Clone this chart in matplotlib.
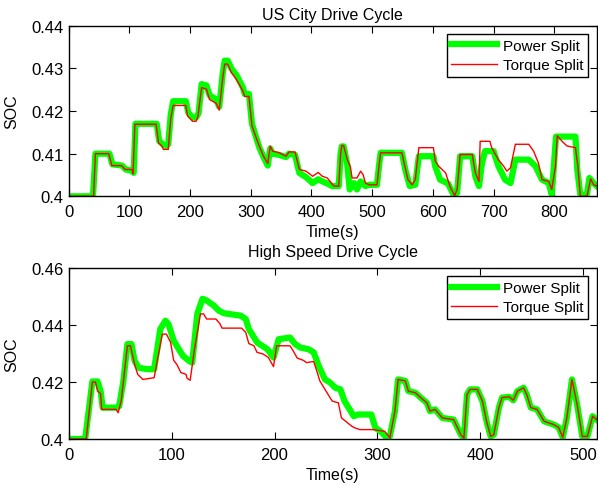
import matplotlib
matplotlib.use('Agg')
import matplotlib.pyplot as plt

plt.rcParams['font.family'] = ['Liberation Sans', 'DejaVu Sans']
plt.rcParams['font.size'] = 11.5

# US City drive cycle - SOC traces (time in s)
city_power_t = [0, 40, 44, 67, 72, 88, 94, 104, 107, 110, 145, 149, 155, 160, 164, 168, 172, 193,
                197, 204, 210, 214, 219, 227, 232, 243, 248, 254, 257, 262, 268, 276, 287, 290,
                297, 302, 309, 314, 321, 328, 332, 336, 347, 358, 363, 373, 380, 391, 402, 411,
                418, 426, 434, 445, 448, 450, 453, 459, 463, 470, 475, 481, 489, 495, 508, 512,
                514, 549, 555, 562, 571, 577, 601, 604, 612, 625, 634, 640, 645, 665, 670, 676,
                681, 686, 700, 708, 719, 728, 736, 758, 769, 780, 791, 796, 803, 835, 838, 843,
                854, 858, 865, 870]
city_power_soc = [0.4, 0.4, 0.410, 0.410, 0.4075, 0.4072, 0.4063, 0.406, 0.4055, 0.417, 0.417,
                  0.413, 0.4122, 0.4118, 0.4122, 0.419, 0.4223, 0.4223, 0.4196, 0.4185, 0.4185,
                  0.4195, 0.4263, 0.426, 0.4237, 0.4227, 0.421, 0.429, 0.4318, 0.4318, 0.430,
                  0.4285, 0.4255, 0.424, 0.424, 0.417, 0.4137, 0.4115, 0.4092, 0.4072, 0.4112,
                  0.410, 0.4097, 0.4092, 0.410, 0.4097, 0.4055, 0.4045, 0.4031, 0.404, 0.4035,
                  0.403, 0.4024, 0.4024, 0.410, 0.4117, 0.4117, 0.4075, 0.4016, 0.4031, 0.4016,
                  0.4035, 0.4024, 0.4027, 0.4027, 0.408, 0.4102, 0.4102, 0.406, 0.4024, 0.4027,
                  0.4094, 0.4094, 0.407, 0.4039, 0.403, 0.4004, 0.4008, 0.4094, 0.4094, 0.4047,
                  0.4024, 0.4078, 0.4106, 0.4106, 0.4071, 0.4039, 0.4031, 0.4086, 0.4086, 0.4071,
                  0.4039, 0.4031, 0.4004, 0.414, 0.414, 0.4063, 0.4004, 0.4004, 0.4043, 0.4031,
                  0.4024]

city_torque_t = [0, 41, 44, 66, 71, 87, 93, 104, 106, 109, 144, 148, 153, 156, 164, 168, 172, 193,
                 196, 204, 210, 213, 219, 227, 232, 243, 248, 254, 257, 262, 268, 276, 287, 290,
                 297, 302, 309, 314, 321, 328, 332, 336, 347, 358, 363, 373, 380, 391, 402, 411,
                 418, 426, 437, 445, 448, 450, 453, 459, 464, 467, 475, 481, 485, 489, 495, 508,
                 512, 514, 549, 554, 559, 566, 571, 577, 601, 604, 610, 621, 629, 636, 640, 645,
                 665, 670, 676, 678, 694, 697, 708, 717, 722, 728, 736, 758, 766, 774, 780, 791,
                 796, 802, 805, 813, 821, 835, 839, 843, 854, 860, 865, 870]
city_torque_soc = [0.4, 0.4, 0.410, 0.410, 0.4072, 0.4072, 0.4063, 0.4063, 0.4053, 0.4169, 0.4169,
                   0.4125, 0.4119, 0.411, 0.411, 0.418, 0.4213, 0.4213, 0.4188, 0.4176, 0.4176,
                   0.4188, 0.4255, 0.4251, 0.4227, 0.4218, 0.4202, 0.428, 0.431, 0.431, 0.429,
                   0.4275, 0.4247, 0.4234, 0.4234, 0.4165, 0.4137, 0.4118, 0.4094, 0.4077, 0.4118,
                   0.4106, 0.4102, 0.4094, 0.4104, 0.4104, 0.4063, 0.4059, 0.4047, 0.4056, 0.4047,
                   0.4043, 0.4024, 0.4024, 0.410, 0.4119, 0.4119, 0.4086, 0.407, 0.4043, 0.4043,
                   0.4059, 0.4051, 0.4031, 0.4027, 0.4027, 0.408, 0.4102, 0.4102, 0.407, 0.4039,
                   0.4027, 0.4039, 0.4114, 0.4114, 0.4082, 0.407, 0.4055, 0.402, 0.4002, 0.4016,
                   0.4098, 0.4098, 0.4055, 0.4035, 0.4129, 0.4129, 0.4114, 0.4086, 0.407, 0.4059,
                   0.4067, 0.4122, 0.4122, 0.4106, 0.4078, 0.4039, 0.4035, 0.4016, 0.407, 0.4142,
                   0.4129, 0.4118, 0.4114, 0.407, 0.4, 0.4, 0.4041, 0.4027, 0.4024]

# High speed drive cycle
hs_power_t = [0, 16, 23, 28, 31, 33, 46, 49, 53, 57, 61, 64, 68, 76, 83, 86, 89, 94, 97, 102, 107,
              111, 117, 120, 125, 130, 134, 141, 146, 151, 167, 172, 175, 183, 188, 193, 199, 204,
              215, 220, 225, 233, 238, 243, 249, 254, 259, 264, 268, 277, 281, 294, 298, 303, 309,
              312, 317, 320, 327, 330, 337, 342, 348, 351, 356, 363, 374, 381, 384, 387, 390, 397,
              402, 406, 410, 413, 418, 421, 428, 432, 436, 442, 445, 449, 455, 462, 471, 476, 480,
              484, 489, 494, 499, 504, 509, 513]
hs_power_soc = [0.4, 0.4, 0.4202, 0.4202, 0.4168, 0.411, 0.411, 0.4115, 0.420, 0.4333, 0.4333,
                0.4274, 0.425, 0.4245, 0.4245, 0.4315, 0.4386, 0.4415, 0.4403, 0.4345, 0.4315,
                0.4292, 0.4274, 0.4268, 0.444, 0.4492, 0.4486, 0.4468, 0.445, 0.4441, 0.4433,
                0.4421, 0.4386, 0.4339, 0.4327, 0.4315, 0.4286, 0.435, 0.4356, 0.4333, 0.4321,
                0.4315, 0.4304, 0.4256, 0.4209, 0.4198, 0.418, 0.4174, 0.4133, 0.408, 0.4086,
                0.4086, 0.4039, 0.4027, 0.4004, 0.4009, 0.4098, 0.4209, 0.4204, 0.4168, 0.4162,
                0.4145, 0.4127, 0.4098, 0.4104, 0.4074, 0.4068, 0.4015, 0.4004, 0.4156, 0.4174,
                0.4174, 0.4133, 0.4062, 0.4009, 0.4015, 0.411, 0.4145, 0.4148, 0.4136, 0.4168,
                0.418, 0.4156, 0.411, 0.4104, 0.4062, 0.4051, 0.4041, 0.4006, 0.4074, 0.4209,
                0.4121, 0.4009, 0.4009, 0.408, 0.4068]

hs_torque_t = [0, 17, 23, 26, 28, 31, 32, 46, 48, 51, 57, 60, 64, 67, 72, 83, 86, 91, 95, 99, 102,
               105, 109, 114, 115, 118, 122, 128, 131, 134, 143, 147, 149, 168, 172, 175, 180, 183,
               189, 194, 199, 202, 215, 218, 222, 228, 231, 238, 241, 244, 249, 256, 262, 265, 275,
               278, 283, 296, 307, 311, 312, 317, 320, 327, 330, 337, 342, 348, 351, 356, 363, 374,
               381, 384, 387, 390, 397, 402, 406, 410, 413, 418, 421, 428, 432, 436, 442, 445, 449,
               455, 462, 471, 476, 480, 484, 489, 494, 499, 504, 509, 513]
hs_torque_soc = [0.4, 0.4, 0.420, 0.420, 0.4168, 0.4159, 0.4104, 0.4104, 0.4092, 0.4133, 0.4327,
                 0.4327, 0.4262, 0.4227, 0.4209, 0.4215, 0.4274, 0.4368, 0.4368, 0.4339, 0.4276,
                 0.4262, 0.4233, 0.4227, 0.4213, 0.4206, 0.431, 0.4439, 0.4439, 0.4421, 0.4421,
                 0.4404, 0.4389, 0.4389, 0.4374, 0.4335, 0.4327, 0.4304, 0.4298, 0.4286, 0.4254,
                 0.4327, 0.4327, 0.431, 0.4284, 0.4276, 0.4268, 0.4272, 0.4239, 0.4204, 0.4174,
                 0.4133, 0.4127, 0.4074, 0.4045, 0.4039, 0.4033, 0.4033, 0.4027, 0.4009, 0.4004,
                 0.4098, 0.4209, 0.4204, 0.4168, 0.4162, 0.4145, 0.4127, 0.4098, 0.4104, 0.4074,
                 0.4068, 0.4015, 0.4004, 0.4156, 0.4174, 0.4174, 0.4133, 0.4062, 0.4009, 0.4015,
                 0.411, 0.4145, 0.4148, 0.4136, 0.4168, 0.418, 0.4156, 0.411, 0.4104, 0.4062,
                 0.4051, 0.4041, 0.4006, 0.4074, 0.4209, 0.4121, 0.4009, 0.4009, 0.408, 0.4068]

fig = plt.figure(figsize=(5.98, 4.89), dpi=100)
ax1 = fig.add_axes([0.1149, 0.5965, 0.8829, 0.3489])
ax2 = fig.add_axes([0.1149, 0.1002, 0.8829, 0.3497])

panels = [
    (ax1, city_power_t, city_power_soc, city_torque_t, city_torque_soc,
     'US City Drive Cycle', 5, (0, 870), (0.4, 0.44), [0.4, 0.41, 0.42, 0.43, 0.44]),
    (ax2, hs_power_t, hs_power_soc, hs_torque_t, hs_torque_soc,
     'High Speed Drive Cycle', 8.5, (0, 513), (0.4, 0.46), [0.4, 0.42, 0.44, 0.46]),
]

for ax, pt, ps, tt, ts, title, tpad, xl, yl, yt in panels:
    ax.plot(pt, ps, color='#00ff00', lw=4.5, solid_joinstyle='round', label='Power Split')
    ax.plot(tt, ts, color='red', lw=1, label='Torque Split')
    ax.set_xlim(*xl)
    ax.set_ylim(*yl)
    ax.set_yticks(yt)
    ax.set_yticklabels([('%g' % v) for v in yt])
    ax.set_xlabel('Time(s)', labelpad=3.5)
    ax.set_ylabel('SOC', labelpad=9)
    ax.set_title(title, fontsize=11.5, pad=tpad)
    ax.tick_params(direction='in', top=True, right=True, length=5, width=0.8,
                   labelsize=12)
    ax.tick_params(axis='x', pad=5.5)
    ax.tick_params(axis='y', pad=3.5)
    for s in ax.spines.values():
        s.set_linewidth(1.0)
    ax.legend(loc='upper right', fancybox=False, framealpha=1, edgecolor='black',
              fontsize=11, handlelength=3.0, handletextpad=0.4, borderaxespad=0.55,
              labelspacing=0.35, borderpad=0.3)

fig.savefig('out.png', dpi=100)
